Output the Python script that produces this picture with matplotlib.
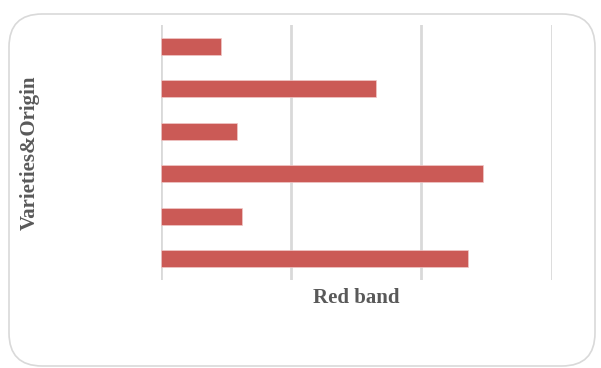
"""Horizontal bar chart: Red band by variety & origin."""

import matplotlib
matplotlib.use("Agg")
from matplotlib import pyplot as plt
from matplotlib.patches import FancyBboxPatch

# categories listed bottom to top (no tick labels are shown in the chart)
varieties = ["V6", "V5", "V4", "V3", "V2", "V1"]
red_band = [2.36, 0.62, 2.47, 0.58, 1.65, 0.46]
x_ticks = [0, 1, 2, 3]

BAR_COLOR = "#CB5A56"
GRID_COLOR = "#D9D9D9"
TEXT_COLOR = "#595959"
FONT = "Liberation Serif"


def main():
    fig = plt.figure(figsize=(6.01, 3.68), dpi=100)
    fig.patch.set_facecolor("white")

    # rounded chart border
    border = FancyBboxPatch(
        (9 / 601, 2 / 368), 586 / 601, 352 / 368,
        boxstyle="round,pad=0,rounding_size=0.055",
        transform=fig.transFigure, facecolor="none",
        edgecolor=GRID_COLOR, linewidth=1.2,
        mutation_aspect=601 / 368, zorder=-1,
    )
    fig.patches.append(border)

    ax = fig.add_axes([161 / 601, 1 - 280 / 368, 390.7 / 601, 255 / 368])
    ax.set_facecolor("none")
    ax.barh(range(len(varieties)), red_band, height=0.39, color=BAR_COLOR,
            edgecolor="#F0C8C8", linewidth=0.5, zorder=3)
    ax.set_xlim(x_ticks[0], x_ticks[-1])
    ax.set_ylim(-0.5, len(varieties) - 0.5)
    ax.set_xticks(x_ticks)
    ax.set_yticks([])
    ax.tick_params(axis="x", length=0, labelbottom=False)
    ax.grid(axis="x", color=GRID_COLOR, linewidth=2.0, zorder=0)
    for side in ax.spines.values():
        side.set_visible(False)

    ax.set_xlabel("Red band", fontsize=15, fontweight="bold",
                  family=FONT, color=TEXT_COLOR, labelpad=6)
    fig.text(30 / 601, 1 - 153 / 368, "Varieties&Origin", rotation=90,
             ha="center", va="center", fontsize=15, fontweight="bold",
             family=FONT, color=TEXT_COLOR)

    fig.savefig("out.png", dpi=100)


if __name__ == "__main__":
    main()
